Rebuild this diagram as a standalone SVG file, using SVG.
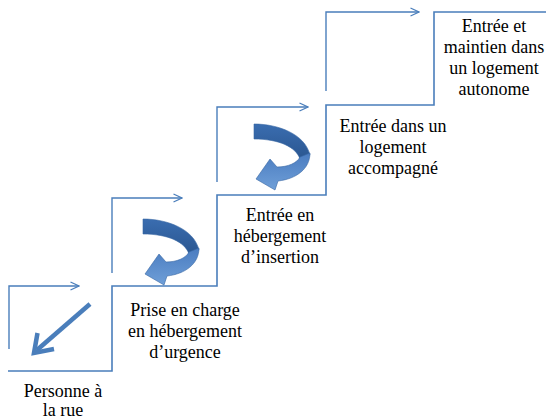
<svg xmlns="http://www.w3.org/2000/svg" width="546" height="419" viewBox="0 0 546 419">
  <style>
    .stair { fill: none; stroke: #4a7ebb; stroke-width: 1.6; }
    .step-arrow { fill: none; stroke: #4a7ebb; stroke-width: 1.4; marker-end: url(#chev); }
    .back { fill: url(#gDark); stroke: #3867a3; stroke-width: 0.6; }
    .front { fill: url(#gLight); stroke: #3867a3; stroke-width: 0.6; }
  </style>
  <defs>
    <marker id="chev" viewBox="0 0 10 10" refX="9.5" refY="5" markerWidth="10" markerHeight="10" markerUnits="userSpaceOnUse" orient="auto">
      <path d="M1,1 L9.5,5 L1,9" fill="none" stroke="#4a7ebb" stroke-width="1.3"/>
    </marker>
    <linearGradient id="gDark" x1="0" y1="0" x2="0" y2="1">
      <stop offset="0" stop-color="#3a6db0"/>
      <stop offset="1" stop-color="#2a5690"/>
    </linearGradient>
    <linearGradient id="gLight" x1="0" y1="0" x2="0" y2="1">
      <stop offset="0" stop-color="#4a7cc0"/>
      <stop offset="1" stop-color="#6f9fd8"/>
    </linearGradient>
    <g id="uturn">
      <path class="back" d="M1,0 C25,0 52,10 57,31 L47,35 C43,23 26,15 1,15 Z"/>
      <path class="front" d="M57,29 C57,45 43,55 25,57 L22,66 L3,55 L17,35 L24,43 C35,43 44,39 47,33 Z"/>
    </g>
  </defs>

  <g id="staircase">
    <path class="stair" d="M8,371 H112 V286 H217 V195 H326 V105 H434 V12 H546"/>
  </g>

  <g id="connectors">
    <path class="step-arrow" d="M9,349 V286 H79"/>
    <path class="step-arrow" d="M112,273 V198 H182"/>
    <path class="step-arrow" d="M217,182 V107 H308"/>
    <path class="step-arrow" d="M326,91 V12 H419"/>
    <g id="down-arrow" fill="none" stroke="#4a7ebb" stroke-width="4.5">
      <line x1="90" y1="304" x2="37" y2="350"/>
      <polyline points="37.5,333 34,353 54,349" stroke-linejoin="miter"/>
    </g>
    <use href="#uturn" transform="translate(142,219)"/>
    <use href="#uturn" transform="translate(253,124)"/>
  </g>

  <g font-family="Liberation Serif, DejaVu Serif, serif" font-size="18" fill="#000" text-anchor="middle">
    <g id="step-personne">
      <text x="63" y="397">Personne à</text>
      <text x="63" y="415.5">la rue</text>
    </g>
    <g id="step-urgence">
      <text x="185" y="316">Prise en charge</text>
      <text x="185" y="337">en hébergement</text>
      <text x="185" y="358">d’urgence</text>
    </g>
    <g id="step-insertion">
      <text x="280" y="221">Entrée en</text>
      <text x="280" y="242">hébergement</text>
      <text x="280" y="263">d’insertion</text>
    </g>
    <g id="step-accompagne">
      <text x="393" y="132">Entrée dans un</text>
      <text x="393" y="153">logement</text>
      <text x="393" y="174">accompagné</text>
    </g>
    <g id="step-autonome">
      <text x="494" y="32">Entrée et</text>
      <text x="494" y="53">maintien dans</text>
      <text x="494" y="74">un logement</text>
      <text x="494" y="95">autonome</text>
    </g>
  </g>
</svg>
